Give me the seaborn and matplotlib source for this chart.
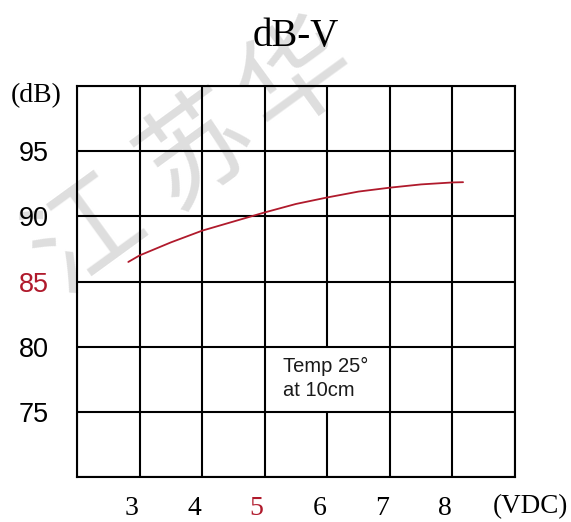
import matplotlib
matplotlib.use("Agg")
import matplotlib.pyplot as plt
import matplotlib.transforms as mtransforms
from matplotlib.patches import Rectangle
import seaborn as sns
import pandas as pd

# ---- data ----
voltage = [2.82, 3.0, 3.5, 4.0, 4.5, 5.0, 5.5, 6.0, 6.5, 7.0, 7.5, 8.0, 8.17]
spl_db = [86.5, 87.0, 88.0, 88.9, 89.6, 90.3, 90.95, 91.45, 91.9, 92.2, 92.45, 92.6, 92.62]
x_ticks = [2, 3, 4, 5, 6, 7, 8, 9]
x_tick_labels = ["", "3", "4", "5", "6", "7", "8", ""]
y_ticks = [70, 75, 80, 85, 90, 95, 100]
y_tick_labels = ["", "75", "80", "85", "90", "95", "(dB)"]
title = "dB-V"
x_unit = "(VDC)"
note = "Temp 25°\nat 10cm"
watermark_chars = ["江", "苏", "华"]
watermark_pos = [(0.150, 0.552), (0.345, 0.712), (0.522, 0.852)]

df = pd.DataFrame({"V": voltage, "dB": spl_db})

sns.set_style("white")
plt.rcParams["font.family"] = ["Liberation Serif", "DejaVu Sans"]
plt.rcParams["text.color"] = "black"
plt.rcParams["xtick.color"] = "black"
plt.rcParams["ytick.color"] = "black"

RED = "#b01a2c"
fig = plt.figure(figsize=(5.71, 5.22), dpi=100)
ax = fig.add_axes([77 / 571, 1 - 477 / 522, (515 - 77) / 571, (477 - 86) / 522])
ax.set_facecolor("none")

# watermark behind axes
for ch, (wx, wy) in zip(watermark_chars, watermark_pos):
    fig.text(wx, wy, ch, rotation=36, ha="center", va="center",
             fontsize=80, color="#dedede", family=["Noto Sans CJK SC"], zorder=-1)

sns.lineplot(data=df, x="V", y="dB", ax=ax, color=RED, linewidth=1.3, zorder=5)

ax.set_xlim(2, 9)
ax.set_ylim(70, 100)
ax.set_xticks(x_ticks)
ax.set_xticklabels(x_tick_labels, fontsize=20, family="Liberation Serif")
ax.set_yticks(y_ticks)
ax.set_yticklabels(y_tick_labels, fontsize=19.5, family="Liberation Sans")
ax.set_xlabel("")
ax.set_ylabel("")

ax.grid(True, color="black", linewidth=1.5)
ax.tick_params(axis="both", length=0, labelcolor="black")
ax.tick_params(axis="x", pad=14)
ax.tick_params(axis="y", pad=31)
for lab in ax.get_yticklabels():
    lab.set_horizontalalignment("center")
for s in ax.spines.values():
    s.set_color("black")
    s.set_linewidth(1.5)

# shift x tick labels slightly left
off = mtransforms.ScaledTranslation(-8 / 100, 0, fig.dpi_scale_trans)
for lab in ax.get_xticklabels():
    lab.set_transform(lab.get_transform() + off)
    if lab.get_text() == "5":
        lab.set_color(RED)
for lab in ax.get_yticklabels():
    if lab.get_text() == "85":
        lab.set_color(RED)
    if lab.get_text() == "(dB)":
        lab.set_family("Liberation Serif")
        lab.set_fontsize(20)
        lab.set_transform(lab.get_transform() +
                          mtransforms.ScaledTranslation(2 / 100, -7 / 100, fig.dpi_scale_trans))

# layering: vertical grid under note box, horizontal grid above
ax.xaxis.set_zorder(1)
ax.yaxis.set_zorder(3)
ax.add_patch(Rectangle((5.6, 75), 0.8, 5, facecolor="white", edgecolor="none", zorder=2))
ax.text(5.30, 77.55, note, ha="left", va="center", fontsize=14.5,
        family="Liberation Sans", color="#1a1a1a", linespacing=1.3, zorder=4)

ax.set_title(title, fontsize=28, pad=29, family="Liberation Serif", color="black")
ax.text(9.24, -0.045, x_unit, transform=ax.get_xaxis_transform(), ha="center", va="top",
        fontsize=19.5, family="Liberation Serif", clip_on=False)

fig.savefig("out.png", dpi=100, facecolor="white")
